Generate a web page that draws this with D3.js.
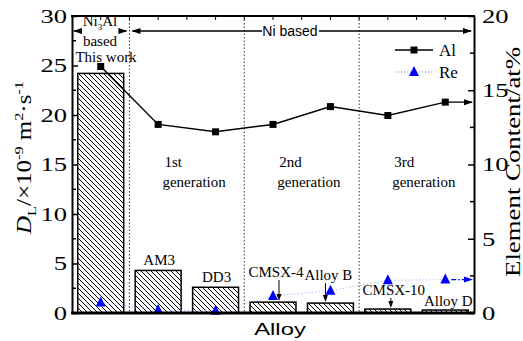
<!DOCTYPE html>
<html>
<head>
<meta charset="utf-8">
<script src="https://cdn.jsdelivr.net/npm/d3@7"></script>
<style>
  body { margin: 0; background: #fff; }
  svg { display: block; }
  text { font-family: "Liberation Serif", "Times New Roman", serif; fill: #000; }
  .sans { font-family: "Liberation Sans", Arial, sans-serif; }
</style>
</head>
<body>
<svg width="523" height="341"></svg>
<script>
// data
var alloys = ['This work', 'AM3', 'DD3', 'CMSX-4', 'Alloy B', 'CMSX-10', 'Alloy D'];
var diffusivity = [24.2, 4.3, 2.6, 1.1, 1.0, 0.4, 0.3];
var alContent = [16.6, 12.7, 12.2, 12.7, 13.9, 13.3, 14.2];
var reContent = [0.7, 0.2, 0.15, 1.15, 1.5, 2.2, 2.25];
var leftTicks = [0, 5, 10, 15, 20, 25, 30];
var rightTicks = [0, 5, 10, 15, 20];
var generations = [['1st', 'generation'], ['2nd', 'generation'], ['3rd', 'generation']];

var svg = d3.select('svg');
var plot = { l: 72, r: 474, t: 16, b: 313 };
var stretch = 1.4;

var x = d3.scaleBand()
  .domain(alloys)
  .range([plot.l, plot.r])
  .paddingInner(0.2)
  .paddingOuter(0.1);
var yL = d3.scaleLinear().domain([0, 30]).range([plot.b, plot.t]);
var yR = d3.scaleLinear().domain([0, 20]).range([plot.b, plot.t]);
var cx = d => x(d) + x.bandwidth() / 2;
var boundary = i => x(alloys[i]) - x.step() * x.paddingInner() / 2;

// hatch pattern
svg.append('defs').append('pattern')
  .attr('id', 'hatch')
  .attr('width', 5).attr('height', 5)
  .attr('patternUnits', 'userSpaceOnUse')
  .call(p => p.append('rect').attr('width', 5).attr('height', 5).attr('fill', '#fff'))
  .append('path')
  .attr('d', 'M-1,-1L6,6M-1,4L1,6M4,-1L6,1')
  .attr('stroke', '#000').attr('stroke-width', 1);

// divider lines
[1, 3, 5].forEach(function(i) {
  svg.append('line')
    .attr('x1', boundary(i)).attr('x2', boundary(i))
    .attr('y1', plot.t).attr('y2', plot.b)
    .attr('stroke', '#333').attr('stroke-width', 1)
    .attr('stroke-dasharray', '1.5,2');
});

// bars
svg.selectAll('.bar')
  .data(alloys)
  .enter().append('rect')
  .attr('class', 'bar')
  .attr('x', d => x(d))
  .attr('width', x.bandwidth())
  .attr('y', (d, i) => yL(diffusivity[i]))
  .attr('height', (d, i) => plot.b - yL(diffusivity[i]))
  .attr('fill', 'url(#hatch)')
  .attr('stroke', '#000')
  .attr('stroke-width', 1.5);

// Re dotted line + triangles
var reLine = d3.line().x((d, i) => cx(alloys[i])).y(d => yR(d));
svg.append('path')
  .attr('d', reLine(reContent))
  .attr('fill', 'none')
  .attr('stroke', '#99a6ff')
  .attr('stroke-width', 1)
  .attr('stroke-dasharray', '1,2.5');

function triangle(g, px, py, s) {
  g.append('path')
    .attr('d', 'M' + px + ',' + (py - s * 0.6) + 'L' + (px + s / 2) + ',' + (py + s * 0.4) + 'L' + (px - s / 2) + ',' + (py + s * 0.4) + 'Z')
    .attr('fill', '#0000ff');
}
reContent.forEach(function(v, i) { triangle(svg, cx(alloys[i]), yR(v), 10); });

// Al line + squares
var alLine = d3.line().x((d, i) => cx(alloys[i])).y(d => yR(d));
svg.append('path')
  .attr('d', alLine(alContent))
  .attr('fill', 'none')
  .attr('stroke', '#000')
  .attr('stroke-width', 1.5);
svg.selectAll('.al')
  .data(alContent)
  .enter().append('rect')
  .attr('x', (d, i) => cx(alloys[i]) - 3.5)
  .attr('y', d => yR(d) - 3.5)
  .attr('width', 7).attr('height', 7)
  .attr('fill', '#000');

function arrowHead(px, py, dir, color) {
  var s = dir === 'right' ? -1 : 1;
  svg.append('path')
    .attr('d', 'M' + px + ',' + py + 'L' + (px + s * 9) + ',' + (py - 3) + 'L' + (px + s * 9) + ',' + (py + 3) + 'Z')
    .attr('fill', color);
}
function hline(x1, x2, y, color, dash) {
  svg.append('line')
    .attr('x1', x1).attr('x2', x2).attr('y1', y).attr('y2', y)
    .attr('stroke', color).attr('stroke-width', 1.3)
    .attr('stroke-dasharray', dash || null);
}

// arrows to the right axis
var lastX = cx(alloys[6]);
hline(lastX, plot.r - 2, yR(alContent[6]), '#000');
arrowHead(plot.r - 1, yR(alContent[6]), 'right', '#000');
hline(lastX + 6, plot.r - 2, yR(reContent[6]), '#0000ff', '5,2,1.5,2');
arrowHead(plot.r - 1, yR(reContent[6]), 'right', '#0000ff');

// bar annotations
var notes = [
  { i: 1, dx: 1, dy: -5 },
  { i: 2, dx: 1, dy: -5 },
  { i: 3, dx: 3, dy: -25, ax: 6 },
  { i: 4, dx: -2, dy: -23, ax: -5 },
  { i: 5, dx: 6, dy: -14, ax: 3 },
  { i: 6, dx: 3, dy: -4 }
];
notes.forEach(function(n) {
  var bx = cx(alloys[n.i]);
  var top = yL(diffusivity[n.i]);
  svg.append('text')
    .attr('x', bx + n.dx).attr('y', top + n.dy)
    .attr('text-anchor', 'middle')
    .style('font-size', '15px')
    .text(alloys[n.i]);
  if (n.ax !== undefined) {
    var ax = bx + n.ax;
    svg.append('line')
      .attr('x1', ax).attr('x2', ax)
      .attr('y1', top + n.dy + 3).attr('y2', top - 6)
      .attr('stroke', '#000').attr('stroke-width', 1);
    svg.append('path')
      .attr('d', 'M' + ax + ',' + (top - 1) + 'L' + (ax - 2.5) + ',' + (top - 8) + 'L' + (ax + 2.5) + ',' + (top - 8) + 'Z')
      .attr('fill', '#000');
  }
});

// generation labels
generations.forEach(function(g, k) {
  var gx = boundary(2 * k + 1) + 33;
  svg.append('text').attr('x', gx + 2).attr('y', 167).style('font-size', '15px').text(g[0]);
  svg.append('text').attr('x', gx).attr('y', 187).style('font-size', '15px').text(g[1]);
});

// top region labels
var bx1 = boundary(1);
hline(plot.l + 2, 80, 31, '#000');
arrowHead(plot.l + 1, 31, 'left', '#000');
hline(121, bx1 - 3, 31, '#000');
arrowHead(bx1 - 2, 31, 'right', '#000');
var niAl = svg.append('text').attr('x', 100).attr('y', 26).attr('text-anchor', 'middle').style('font-size', '15px');
niAl.append('tspan').text('Ni');
niAl.append('tspan').attr('dy', 4).style('font-size', '9px').text('3');
niAl.append('tspan').attr('dy', -4).text('Al');
svg.append('text').attr('x', 100).attr('y', 46).attr('text-anchor', 'middle').style('font-size', '15px').text('based');
svg.append('text').attr('x', 106).attr('y', 62).attr('text-anchor', 'middle').style('font-size', '15px').text('This work');

hline(bx1 + 3, 262, 31, '#000');
arrowHead(bx1 + 2, 31, 'left', '#000');
hline(319, plot.r - 3, 31, '#000');
arrowHead(plot.r - 2, 31, 'right', '#000');
svg.append('text').attr('class', 'sans')
  .attr('x', 290).attr('y', 36).attr('text-anchor', 'middle')
  .style('font-size', '14px').text('Ni based');

// legend
hline(395, 433, 50, '#000');
svg.append('rect').attr('x', 410.5).attr('y', 46.5).attr('width', 7).attr('height', 7).attr('fill', '#000');
svg.append('text').attr('x', 439).attr('y', 56).style('font-size', '17px').text('Al');
hline(395, 433, 72, '#99a6ff', '1,2');
triangle(svg, 414, 72, 10);
svg.append('text').attr('x', 439).attr('y', 78).style('font-size', '17px').text('Re');

// axes
var leftAxis = svg.append('g')
  .attr('transform', 'translate(' + plot.l + ',0)')
  .call(d3.axisLeft(yL).tickValues(leftTicks).tickSizeInner(-6).tickSizeOuter(0).tickFormat(d3.format('d')));
var rightAxis = svg.append('g')
  .attr('transform', 'translate(' + plot.r + ',0)')
  .call(d3.axisRight(yR).tickValues(rightTicks).tickSizeInner(-6).tickSizeOuter(0).tickFormat(d3.format('d')));
[leftAxis, rightAxis].forEach(function(a) {
  a.select('.domain').attr('stroke-width', 2);
  a.selectAll('.tick line').attr('stroke-width', 1.5);
  a.selectAll('.tick text')
    .style('font-family', '"Liberation Serif", serif')
    .style('font-size', '19px')
    .attr('x', 0).attr('dy', '0.33em');
});
leftAxis.selectAll('.tick text').attr('transform', 'translate(-5,0) scale(' + stretch + ',1)');
rightAxis.selectAll('.tick text').attr('transform', 'translate(8,0) scale(' + stretch + ',1)');

// minor ticks
d3.range(2.5, 30, 5).forEach(function(v) {
  svg.append('line').attr('x1', plot.l).attr('x2', plot.l + 4)
    .attr('y1', yL(v)).attr('y2', yL(v)).attr('stroke', '#000').attr('stroke-width', 1.5);
});
d3.range(2.5, 20, 5).forEach(function(v) {
  svg.append('line').attr('x1', plot.r).attr('x2', plot.r - 4)
    .attr('y1', yR(v)).attr('y2', yR(v)).attr('stroke', '#000').attr('stroke-width', 1.5);
});

// top and bottom frame
svg.append('line').attr('x1', plot.l - 1).attr('x2', plot.r + 1).attr('y1', plot.t).attr('y2', plot.t)
  .attr('stroke', '#000').attr('stroke-width', 2);
d3.range(1, 14).forEach(function(k) {
  var tx = plot.l + x.step() * 0.5 * k;
  svg.append('line').attr('x1', tx).attr('x2', tx).attr('y1', plot.t).attr('y2', plot.t + 4)
    .attr('stroke', '#000').attr('stroke-width', 1);
});
svg.append('line').attr('x1', plot.l - 1).attr('x2', plot.r + 1).attr('y1', plot.b).attr('y2', plot.b)
  .attr('stroke', '#000').attr('stroke-width', 3);

// axis titles
var yTitle = svg.append('text')
  .attr('transform', 'translate(31,234) rotate(-90) scale(1.25,1)')
  .style('font-size', '20px');
yTitle.append('tspan').style('font-style', 'italic').text('D');
yTitle.append('tspan').attr('dy', 5).style('font-size', '13px').text('L');
yTitle.append('tspan').attr('dy', -5).text('/\u00d710');
yTitle.append('tspan').attr('dy', -8).style('font-size', '13px').text('-9');
yTitle.append('tspan').attr('dy', 8).text(' m');
yTitle.append('tspan').attr('dy', -8).style('font-size', '13px').text('2');
yTitle.append('tspan').attr('dy', 8).text('\u00b7s');
yTitle.append('tspan').attr('dy', -8).style('font-size', '13px').text('-1');

svg.append('text')
  .attr('transform', 'translate(520,277) rotate(-90) scale(1.22,1)')
  .style('font-size', '22px')
  .text('Element Content/at%');

svg.append('text').attr('class', 'sans')
  .attr('transform', 'translate(280,335) scale(' + stretch + ',1)')
  .attr('text-anchor', 'middle')
  .style('font-size', '17px')
  .text('Alloy');
</script>
</body>
</html>
